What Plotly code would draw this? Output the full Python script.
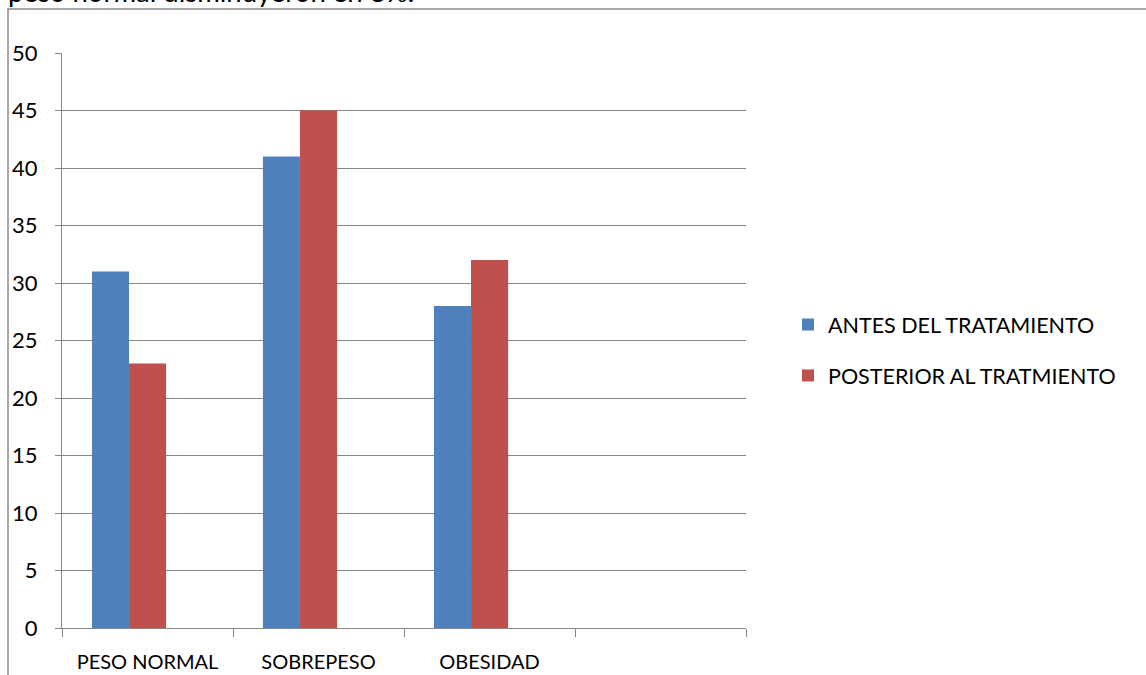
import plotly.graph_objects as go

categories = ["PESO NORMAL", "SOBREPESO", "OBESIDAD", " "]
antes = [31, 41, 28, None]
posterior = [23, 45, 32, None]
y_ticks = [0, 5, 10, 15, 20, 25, 30, 35, 40, 45, 50]

W, H = 1146, 675
L, R, T, B = 62, 400, 53, 47
pw, ph = W - L - R, H - T - B

def px_x(x):
    return (x - L) / pw

def px_y(y):
    return (H - B - y) / ph

font = "Lato, 'Open Sans', sans-serif"
grid = "#868686"
bar_w = 0.2167

fig = go.Figure()
fig.add_trace(go.Bar(
    x=categories, y=antes, name="ANTES DEL TRATAMIENTO",
    marker=dict(color="#4F81BD", line=dict(width=0)),
    width=bar_w, offset=-0.325, legendgroup="a",
))
fig.add_trace(go.Bar(
    x=categories, y=posterior, name="POSTERIOR AL TRATMIENTO",
    marker=dict(color="#C0504D", line=dict(width=0)),
    width=bar_w, offset=-0.108, legendgroup="b",
))

fig.update_layout(
    width=W, height=H,
    margin=dict(l=L, r=R, t=T, b=B, pad=0, autoexpand=False),
    paper_bgcolor="white", plot_bgcolor="white",
    font=dict(family=font, size=20, color="black"),
    barmode="overlay",
    showlegend=True,
    legend=dict(
        x=px_x(788), y=px_y(350), xanchor="left", yanchor="middle",
        font=dict(size=21.5), tracegroupgap=20, traceorder="grouped",
        bgcolor="rgba(0,0,0,0)", itemwidth=30,
    ),
    xaxis=dict(
        type="category", categoryorder="array", categoryarray=categories,
        range=[-0.5, 3.5], tickson="boundaries", automargin=False,
        ticks="outside", ticklen=8, tickcolor=grid, tickwidth=1,
        showline=True, linecolor=grid, linewidth=1,
        showgrid=False, tickfont=dict(size=20), ticklabelstandoff=16,
    ),
    yaxis=dict(
        range=[0, 50], tickvals=y_ticks, automargin=False,
        ticks="outside", ticklen=6, tickcolor=grid, tickwidth=1,
        showline=True, linecolor=grid, linewidth=1,
        showgrid=True, gridcolor=grid, gridwidth=1,
        zeroline=False, tickfont=dict(size=22), ticklabelstandoff=13,
    ),
    shapes=[dict(
        type="rect", xref="paper", yref="paper",
        x0=px_x(8), x1=px_x(1300), y0=px_y(800), y1=px_y(9),
        line=dict(color="#8c8c8c", width=1.5), fillcolor="rgba(0,0,0,0)",
        layer="below",
    )],
    annotations=[dict(
        text="peso normal disminuyeron en 8%.",
        xref="paper", yref="paper", x=px_x(6), y=px_y(-9),
        xanchor="left", yanchor="middle", showarrow=False,
        font=dict(size=27.5, family=font, color="black"),
    )],
)

fig.write_html("out.html")
